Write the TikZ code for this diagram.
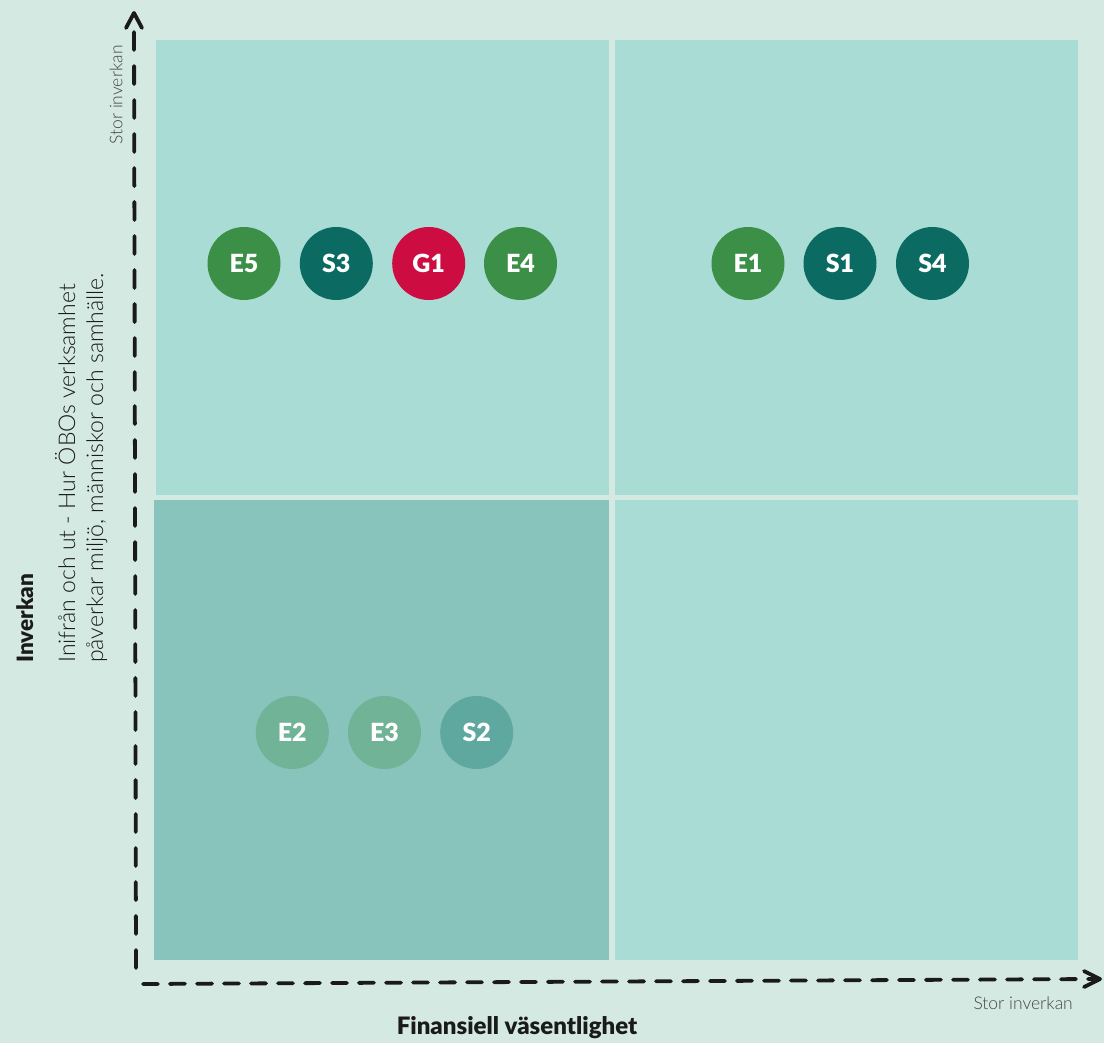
\documentclass[tikz,border=0pt]{standalone}
\usepackage{fontspec}
\setmainfont{Lato}
\newfontfamily\lightfont{Lato Light}
\newfontfamily\blackfont{Lato Black}
\usetikzlibrary{calc}
\definecolor{bg}{HTML}{D4E9E2}
\definecolor{quad}{HTML}{A9DCD5}
\definecolor{quaddark}{HTML}{88C4BB}
\definecolor{egreen}{HTML}{3B8F47}
\definecolor{steal}{HTML}{0B6B63}
\definecolor{gred}{HTML}{CD0C42}
\definecolor{egreenl}{HTML}{70B396}
\definecolor{steall}{HTML}{5FA8A0}
\definecolor{ink}{HTML}{1A1A1A}
\definecolor{soft}{HTML}{444444}
\tikzset{
  dot/.style={circle, minimum size=73pt, inner sep=0pt, text=white,
    font=\blackfont\fontsize{25}{25}\selectfont},
  axisline/.style={draw=ink, line width=3.8pt, line cap=round},
  tipline/.style={draw=ink, line width=3.8pt, line cap=round, line join=round},
  small/.style={text=soft, inner sep=0pt, font=\lightfont\fontsize{17.5}{17.5}\selectfont},
  side/.style={text=ink, inner sep=0pt, font=\lightfont\fontsize{23}{23}\selectfont},
  sidebold/.style={text=ink, inner sep=0pt, font=\blackfont\fontsize{22.5}{22.5}\selectfont},
  xbold/.style={text=ink, inner sep=0pt, font=\blackfont\fontsize{24}{24}\selectfont}
}
\begin{document}
\begin{tikzpicture}[x=1pt,y=-1pt]
\fill[bg] (0,0) rectangle (1104,1043);
\useasboundingbox (0,0) rectangle (1104,1043);
% quadrants
\fill[quad] (156,40) rectangle (609,494.7);
\fill[quad] (615,40) rectangle (1078,494.7);
\fill[quaddark] (154,500.3) rectangle (609,960);
\fill[quad] (615,500.3) rectangle (1078,960);
% axes
\coordinate (yo) at (136,968);
\coordinate (yt) at (134,13);
\coordinate (xo) at (143,984);
\coordinate (xt) at (1100,979);
\draw[axisline, dash pattern=on 18pt off 16pt] (yo) -- ($(yt)+(0,6)$);
\draw[tipline] ($(yt)+(-8,15)$) -- (yt) -- ($(yt)+(8,15)$);
\draw[axisline, dash pattern=on 15pt off 12pt] (xo) -- ($(xt)+(-6,0)$);
\draw[tipline] ($(xt)+(-16,-8)$) -- (xt) -- ($(xt)+(-16,8)$);
% axis texts
\node[small, rotate=90] (stortop) at (116,95) {Stor inverkan};
\node[small, anchor=east] (storright) at (1073,1003) {Stor inverkan};
\node[xbold] (xlabel) at (517,1028) {Finansiell väsentlighet};
\node[sidebold, rotate=90, anchor=base west] (ylabel) at (33,663) {Inverkan};
\node[side, rotate=90, anchor=base west] (yline1) at (75,663) {Inifrån och ut - Hur ÖBOs verksamhet};
\node[side, rotate=90, anchor=base west] (yline2) at (103,663) {påverkar miljö, människor och samhälle.};
% circles top-left
\node[dot, fill=egreen] (E5) at (244,263.5) {E5};
\node[dot, fill=steal] (S3) at (336.3,263.5) {S3};
\node[dot, fill=gred] (G1) at (428.7,263.5) {G1};
\node[dot, fill=egreen] (E4) at (520.5,263.5) {E4};
% circles top-right
\node[dot, fill=egreen] (E1) at (748,263.5) {E1};
\node[dot, fill=steal] (S1) at (840,263.5) {S1};
\node[dot, fill=steal] (S4) at (932.5,263.5) {S4};
% circles bottom-left
\node[dot, fill=egreenl] (E2) at (292.3,732.5) {E2};
\node[dot, fill=egreenl] (E3) at (384.5,732.5) {E3};
\node[dot, fill=steall] (S2) at (476.7,732.5) {S2};
\end{tikzpicture}
\end{document}
